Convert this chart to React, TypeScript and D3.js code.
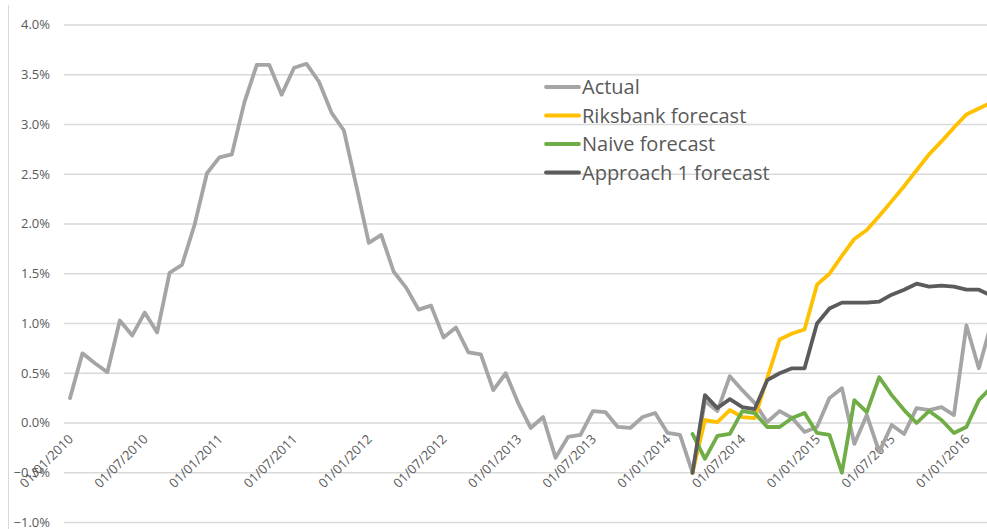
import React from "react";
import * as d3 from "d3";

const tickLabels = ["01/01/2010","01/07/2010","01/01/2011","01/07/2011","01/01/2012","01/07/2012","01/01/2013","01/07/2013","01/01/2014","01/07/2014","01/01/2015","01/07/2015","01/01/2016"];
const yTicks = [-1, -0.5, 0, 0.5, 1, 1.5, 2, 2.5, 3, 3.5, 4];

// monthly values, index 0 = Jan 2010
const actual = [0.25,0.70,0.60,0.51,1.03,0.88,1.11,0.91,1.51,1.59,1.99,2.51,2.67,2.70,3.22,3.60,3.60,3.30,3.57,3.61,3.43,3.12,2.94,2.38,1.81,1.89,1.52,1.36,1.14,1.18,0.86,0.96,0.71,0.69,0.33,0.50,0.20,-0.05,0.06,-0.35,-0.14,-0.12,0.12,0.11,-0.04,-0.05,0.06,0.10,-0.10,-0.12,-0.50,0.22,0.12,0.47,0.33,0.20,0.01,0.12,0.05,-0.09,-0.04,0.25,0.35,-0.21,0.08,-0.29,-0.02,-0.11,0.15,0.13,0.16,0.08,0.98,0.55,1.00];
const forecastStart = 50;
const riksbank = [-0.50,0.03,0.01,0.13,0.06,0.05,0.45,0.84,0.90,0.94,1.39,1.50,1.68,1.85,1.94,2.08,2.23,2.38,2.54,2.70,2.83,2.97,3.10,3.16,3.22];
const naive = [-0.11,-0.36,-0.13,-0.11,0.12,0.10,-0.04,-0.04,0.05,0.10,-0.10,-0.12,-0.50,0.23,0.11,0.46,0.28,0.13,0.00,0.12,0.03,-0.10,-0.04,0.23,0.36];
const approach1 = [-0.50,0.28,0.15,0.24,0.16,0.14,0.43,0.50,0.55,0.55,1.00,1.15,1.21,1.21,1.21,1.22,1.29,1.34,1.40,1.37,1.38,1.37,1.34,1.34,1.28];

const seriesNames = ["Actual", "Riksbank forecast", "Naive forecast", "Approach 1 forecast"];
const seriesColors = ["#a5a5a5", "#ffc000", "#70ad47", "#5b5b5b"];

const W = 987, H = 529;

export default function App() {
  const x = d3.scaleLinear().domain([0, 74]).range([70, 70 + 74 * 12.45]);
  const y = d3.scaleLinear().domain([-1, 4]).range([522.5, 25]);
  const line = d3.line<[number, number]>().x(d => x(d[0])).y(d => y(d[1]));
  const mk = (arr: number[], start: number) => arr.map((v, i) => [start + i, v] as [number, number]);
  const series = [mk(actual, 0), mk(riksbank, forecastStart), mk(naive, forecastStart), mk(approach1, forecastStart)];
  const font = "'Open Sans', sans-serif";
  return (
    <svg width={W} height={H} style={{ position: "absolute", left: 0, top: 0, background: "#fff" }}>
      <line x1={8.5} x2={8.5} y1={5} y2={H} stroke="#d9d9d9" strokeWidth={1} />
      {yTicks.map(t => (
        <g key={t}>
          <line x1={64} x2={W} y1={y(t)} y2={y(t)} stroke="#d9d9d9" strokeWidth={1.5} />
          <text x={50} y={y(t)} dy="0.33em" textAnchor="end" fontSize={13} fill="#595959" fontFamily={font}>
            {d3.format(".1%")(t / 100)}
          </text>
        </g>
      ))}
      {tickLabels.map((l, i) => {
        const tx = x(i * 6) + 4;
        const ty = 440;
        return (
          <text key={l} transform={`translate(${tx},${ty}) rotate(-45)`} textAnchor="end" fontSize={13} fill="#595959" fontFamily={font}>
            {l}
          </text>
        );
      })}
      {series.map((s, i) => (
        <path key={i} d={line(s) || ""} fill="none" stroke={seriesColors[i]} strokeWidth={3.8} strokeLinejoin="round" strokeLinecap="round" />
      ))}
      {seriesNames.map((n, i) => {
        const ly = 87 + i * 28.5;
        return (
          <g key={n}>
            <line x1={546} x2={579} y1={ly} y2={ly} stroke={seriesColors[i]} strokeWidth={3.8} strokeLinecap="round" />
            <text x={582} y={ly} dy="0.35em" fontSize={20} fill="#595959" fontFamily={font}>{n}</text>
          </g>
        );
      })}
    </svg>
  );
}
